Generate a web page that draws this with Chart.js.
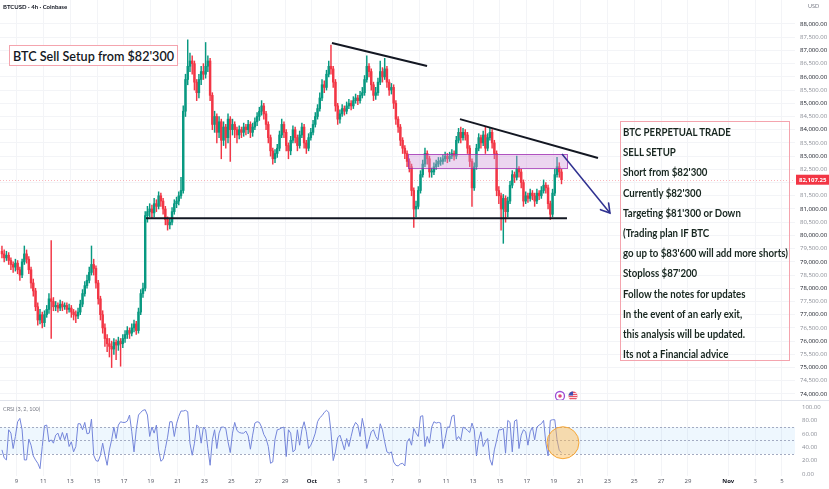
<!DOCTYPE html>
<html>
<head>
<meta charset="utf-8">
<title>BTCUSD 4h</title>
<script src="https://cdn.jsdelivr.net/npm/chart.js@4.4.1/dist/chart.umd.min.js"></script>
<style>
  html, body { margin: 0; padding: 0; background: #fff; }
  #wrap { position: relative; width: 829px; height: 489px; overflow: hidden; font-family: Lato, "Open Sans", sans-serif; }
  canvas { position: absolute; left: 0; }
  #price { top: 0; }
  #rsi { top: 400px; }
  .tiny { position: absolute; font-size: 6px; white-space: nowrap; }
  #sym { left: 3px; top: 3px; color: #131722; font-weight: 700; }
  #usd { left: 808px; top: 3px; color: #787b86; font-size: 5.5px; }
  #crsiLabel { left: 3px; top: 406px; color: #787b86; font-size: 5.5px; }
  .note { position: absolute; box-sizing: border-box; border: 1px solid #f4a4ae; color: #131722; white-space: nowrap; }
  #title { left: 9px; top: 45px; width: 169px; height: 21px; font-size: 14px; font-weight: 600; line-height: 19px; padding-left: 3px; background: #fff; }
  #notes { left: 620px; top: 121px; width: 170px; height: 240px; font-size: 10.5px; font-weight: 700; padding-left: 2px; color: #17261f; }
  #notes .line { height: 20.2px; line-height: 20.2px; }
  .fit { display: inline-block; transform-origin: 0 0; }
</style>
</head>
<body>
<div id="wrap">
  <canvas id="price" width="829" height="400"></canvas>
  <canvas id="rsi" width="829" height="89"></canvas>
  <div id="sym" class="tiny">BTCUSD · 4h · Coinbase</div>
  <div id="usd" class="tiny">USD</div>
  <div id="crsiLabel" class="tiny">CRSI (3, 2, 100)</div>
  <div id="title" class="note"><span class="fit" id="titleText">BTC Sell Setup from $82'300</span></div>
  <div id="notes" class="note"><div class="fit" id="notesText">
    <div class="line">BTC PERPETUAL TRADE</div>
    <div class="line">SELL SETUP</div>
    <div class="line">Short from $82'300</div>
    <div class="line">Currently $82'300</div>
    <div class="line">Targeting $81'300 or Down</div>
    <div class="line">(Trading plan IF BTC</div>
    <div class="line">go up to $83'600 will add more shorts)</div>
    <div class="line">Stoploss $87'200</div>
    <div class="line">Follow the notes for updates</div>
    <div class="line">In the event of an early exit,</div>
    <div class="line">this analysis will be updated.</div>
    <div class="line">Its not a Financial advice</div>
  </div></div>
</div>
<script>
// 4h candles, first one opens Sep 7 20:00; time axis in days since Sep 1
const startDay = 6.8333;
const firstOpen = 79400;

const closes = [
  79300,79150,79250,79050,78900, 78800,78950,78700,78500, 79000,79300,
  79100,78700,78200,77900,77300,76800, 77000,76700, 77000,77200,77600,77500,
  77300,77350,77250,77400,77300,77350,77200,77250,77100,77000,76950,77100,
  77400,77800,78100,78300,78600,78900,78750, 78200,77600,77000,76500,76100,75900,
  75800,75700,75950,75850,76000,75900, 76100,76250,76400,76300,76500,76650,76400,
  77100,77800,78000, 80750, 80900,81000,80850,81200,81100,81500,81300,
  81000,80600,80400,80500, 80900,81200,81300,81500,81700, 84700,85900,
  86400,86600,86500, 85800,85400, 85900,86200,86100,86400,86600, 85300,84200,
  84500,83900,84300,83600,84100,83700,84400,84000,84200,
  84000,83800,84000,83900,84100,84000,84200,83900,84100,84300,84500,
  84700,84900,84600,84200, 83700,83200,82900,83100,83300,
  83800,84200,83900,83400,83200,83600,84000,
  83700,83400,83800,84100,83500,83300,83700,83900,84200,84500,
  84800,85200,85700,85600,86100,86400,86300,85800, 84900,84400,
  84600,84800,84700,84900,85000,84900,85100,85200,85100,85300,85400,
  85900,86400,86200,85700, 85300,85400,85800, 86200,86000,86300,85800,
  85500,85600,85000, 84400,84100,83600, 83300,83100,82800,82600,
  81700,81000,81100, 81700, 82300,82700,83100,82900, 82400,82400,82600,
  82700,82800,82800,82900,83000,82900,83000,83100,83000,
  83600,83900,83700,83900,83800,83300, 82800,81800, 82600,83300,83700,83500,
  83800,83300,83700,83900,83500,83100, 81700, 81500,81000,81400,80900,81300,
  81900,82300,82200,82500,82400,82000, 81300,
  81500,81400,81600,81500,81300,81600,81500,81700, 81900,81800,81200,
  80800,81600, 82300,82600, 82400,82107.25
];

const highs = [
  79600,79450,79400,79350,79150, 79000,79100,79050,78800, 79100,79600,
  79450,79200,78800,78350,78000,77450, 77200,77100, 77150,77350,77800,79800,
  77650,77500,77450,77550,77500,77450,77450,77400,77350,77200,77150,77250,
  77550,77950,78250,78500,78800,79600,79100, 78850,78300,77700,77150,76650,76250,
  76100,76000,76100,76050,76150,76100, 76250,76400,76550,76500,76650,76800,76750,
  77250,77950,78200, 80900, 81100,81200,81150,81400,81350,81650,81600,
  81400,81100,80700,80650, 81050,81350,81450,81650,82200, 84900,86100,
  87400,86900,86800, 86600,85900, 86100,86400,86500,87300,86800, 86700,85400,
  84700,84600,84500,84400,84300,84200,84600,84500,84400,
  84300,84100,84150,84100,84250,84200,84350,84300,84250,84450,84650,
  84850,85100,85000,84700, 84300,83800,83300,83250,83450,
  83950,84400,84300,84000,83500,83750,84150,
  84100,83800,83950,84250,84200,83600,83850,84050,84350,84650,
  84950,85400,85900,85850,86250,86600,87200,86400, 85900,85000,
  84750,84950,84900,85050,85150,85100,85250,85350,85300,85450,85600,
  86050,86800,86500,86300, 85800,85600,85950, 86600,86350,86700,86400,
  85900,85750,85700, 85100,84500,84200, 83700,83400,83200,82900,
  82700,81800,81300, 81850, 82450,82850,83300,83200, 83000,82550,82750,
  82850,82950,82950,83050,83150,83100,83150,83250,83200,
  83750,84050,84100,84050,84000,83900, 83400,82900, 82750,83450,83850,83800,
  83950,84100,83850,84050,84000,83600, 83200, 81850,81600,81550,81500,81450,
  82050,82450,82400,83000,82600,82500, 82100,
  81650,81600,81750,81700,81600,81750,81700,81850, 82100,82000,81900,
  81300,81750, 82500,82950, 82750,82500
];

const lows = [
  79150,79000,79050,78900,78700, 78600,78650,78550,78300, 78400,78900,
  78950,78550,78000,77700,77150,76600, 76650,76500, 76550,76900,77050,76100,
  77150,77150,77100,77150,77150,77200,77050,77100,76900,76800,76700,76850,
  77000,77300,77700,78000,78200,78500,78500, 78000,77400,76800,76300,75800,75600,
  75400,75000,75500,75300,75650,75050, 75750,75950,76100,76100,76200,76350,76250,
  76300,77000,77650, 77900, 80500,80700,80650,80700,80900,81000,81100,
  80800,80400,80200,80250, 80400,80800,81050,81150,81400, 81600,84500,
  85700,86200,86100, 85500,85100, 85200,85700,85900,85950,86200, 85100,84000,
  83900,83500,83700,82900,83400,83300,83500,82800,83800,
  83700,83500,83650,83700,83750,83800,83850,83700,83750,84000,84150,
  84350,84550,84400,84000, 83500,83000,82700,82750,82950,
  83200,83700,83700,83200,82900,83050,83500,
  83500,83200,83300,83700,83300,83100,83200,83600,83800,84100,
  84400,84700,85100,85400,85500,86000,86100,85600, 84700,84200,
  84250,84500,84550,84600,84800,84750,84800,85000,84950,85000,85200,
  85300,85800,86000,85500, 85100,85150,85300, 85700,85800,85900,85600,
  85300,85350,84800, 84200,83900,83400, 83100,82900,82600,82400,
  81500,80300,80700, 81000, 81600,82200,82600,82700, 82200,82200,82300,
  82500,82600,82650,82700,82800,82750,82800,82900,82850,
  82900,83500,83500,83600,83600,83100, 82600,81100, 81700,82500,83200,83300,
  83400,83100,83200,83600,83300,82900, 81500, 81200,80200,79700,80500,80700,
  81200,81800,82000,82100,82200,81800, 81100,
  81200,81250,81300,81350,81100,81200,81350,81400, 81600,81600,81000,
  80600,80700, 81500,82200, 82200,81950
];

// CRSI (3, 2, 100), one value per candle
const crsi = [
  36,24,21,66,61,38,56,78,83,66,  21,21,52,43,27,21,16,8,41,72,
  73,48,51,46,58,61,51,62,51,61,  41,48,33,41,75,75,66,77,60,61,
  82,28,20,19,28,46,28,13,36,51,  70,53,73,78,77,77,79,88,63,33,
  66,88,92,95,96,88,56,70,61,73,  36,19,22,38,55,78,78,56,75,86,
  94,94,95,93,46,28,46,73,70,46,  70,66,38,13,51,66,38,61,70,70,
  68,48,32,61,77,65,62,61,61,64,  57,37,58,76,78,77,70,59,53,41,
  16,18,52,66,67,69,70,26,66,61,  33,36,66,43,66,78,63,38,43,51,
  61,78,84,87,92,95,92,63,20,33,  54,58,48,36,53,41,56,70,77,73,
  56,83,66,38,51,63,66,56,51,75,  66,48,33,31,33,18,13,12,15,16,
  12,48,53,43,68,61,56,86,87,41,  56,46,70,78,76,77,76,38,53,70,
  70,86,88,51,56,51,70,68,65,62,  76,66,27,51,63,41,48,53,22,13,
  36,50,66,66,68,31,80,77,33,79,  81,38,58,66,63,43,63,70,51,70,
  73,75,80,46,27,80,81,81,51,35,32
];

const priceTicks = [74000,74500,75000,75500,76000,76500,77000,77500,78000,78500,79000,79500,
  80000,80500,81000,81500,82000,82500,83000,83500,84000,84500,85000,85500,86000,86500,87000,87500,88000];
const rsiTicks = [0, 20, 40, 60, 80, 100];
// day ticks: Sep 9 .. Sep 29, Oct 1 .. Oct 29, Nov 1, 3, 5
const dayTicks = [8,10,12,14,16,18,20,22,24,26,28,30,32,34,36,38,40,42,44,46,48,50,52,54,56,58,61,63,65];
const monthTicks = [30, 61];

// drawings (day, price)
const supportLine = [{x: 17.64, y: 80650}, {x: 48.99, y: 80650}];
const upperTrend1 = [{x: 31.49, y: 87280}, {x: 38.57, y: 86410}];
const upperTrend2 = [{x: 41.02, y: 84400}, {x: 51.30, y: 82930}];
const sellZone = {x1: 37.15, x2: 48.99, top: 83080, bottom: 82550};
const targetArrow = [{x: 48.62, y: 83080}, {x: 52.19, y: 80850}];
const highlight = {x: 48.69, y: 46.7};
const eventIcons = [48.47, 49.44];

const xMin = 6.771, xMax = 65.97;
const upColor = '#089981', downColor = '#f23645';
const arrowColor = '#2f3190';

const candleDays = closes.map((c, i) => startDay + i / 6 + 1 / 12);
const opens = closes.map((c, i) => i === 0 ? firstOpen : closes[i - 1]);
const colors = closes.map((c, i) => c >= opens[i] ? upColor : downColor);
const lastPrice = closes[closes.length - 1];

Chart.defaults.font.family = '"Open Sans", Lato, sans-serif';

function fmtPrice(v) {
  return v.toLocaleString('en-US', {minimumFractionDigits: 2, maximumFractionDigits: 2});
}
function dayLabel(d) {
  if (d === 30) return 'Oct';
  if (d === 61) return 'Nov';
  if (d < 30) return String(d + 1);
  if (d < 61) return String(d - 29);
  return String(d - 60);
}
function isMonth(c) {
  return !!(c && c.tick && monthTicks.includes(c.tick.value));
}

const priceExtras = {
  id: 'priceExtras',
  beforeDatasetsDraw(chart) {
    const {ctx, chartArea: a, scales: {y}} = chart;
    const yl = Math.round(y.getPixelForValue(lastPrice)) + 0.5;
    ctx.save();
    ctx.strokeStyle = 'rgba(242,54,69,0.35)';
    ctx.setLineDash([1, 2]);
    ctx.lineWidth = 1;
    ctx.beginPath(); ctx.moveTo(a.left, yl); ctx.lineTo(a.right, yl); ctx.stroke();
    ctx.restore();
  },
  afterDatasetDraw(chart, args) {
    if (args.index !== 4) return;
    const {ctx, scales: {x, y}} = chart;
    const x1 = x.getPixelForValue(sellZone.x1), x2 = x.getPixelForValue(sellZone.x2);
    const y1 = y.getPixelForValue(sellZone.top), y2 = y.getPixelForValue(sellZone.bottom);
    ctx.save();
    ctx.fillStyle = 'rgba(206,147,216,0.38)';
    ctx.fillRect(x1, y1, x2 - x1, y2 - y1);
    ctx.strokeStyle = 'rgba(156,39,176,0.75)';
    ctx.lineWidth = 1;
    ctx.strokeRect(Math.round(x1) + 0.5, Math.round(y1) + 0.5, Math.round(x2 - x1), Math.round(y2 - y1));
    ctx.restore();
  },
  afterDatasetsDraw(chart) {
    const {ctx, scales: {x, y}} = chart;
    const ax = x.getPixelForValue(targetArrow[0].x), ay = y.getPixelForValue(targetArrow[0].y);
    const bx = x.getPixelForValue(targetArrow[1].x), by = y.getPixelForValue(targetArrow[1].y);
    const ang = Math.atan2(by - ay, bx - ax);
    const len = 10;
    ctx.save();
    ctx.strokeStyle = arrowColor;
    ctx.lineWidth = 1.6;
    ctx.lineCap = 'round';
    ctx.beginPath();
    ctx.moveTo(bx + len * Math.cos(ang + Math.PI - 0.55), by + len * Math.sin(ang + Math.PI - 0.55));
    ctx.lineTo(bx, by);
    ctx.lineTo(bx + len * Math.cos(ang + Math.PI + 0.55), by + len * Math.sin(ang + Math.PI + 0.55));
    ctx.stroke();
    ctx.restore();
  },
  afterDraw(chart) {
    const {ctx, chartArea: a, scales: {x, y}} = chart;
    // last price tag
    const yl = y.getPixelForValue(lastPrice);
    ctx.save();
    ctx.fillStyle = '#f23645';
    ctx.fillRect(a.right + 1, yl - 5, 33, 10);
    ctx.fillStyle = '#fff';
    ctx.font = 'bold 6px "Open Sans", sans-serif';
    ctx.textBaseline = 'middle';
    ctx.fillText(fmtPrice(lastPrice), a.right + 4, yl + 0.5);
    // event icons on the time line
    const iy = a.bottom - 4;
    const i1 = x.getPixelForValue(eventIcons[0]);
    ctx.beginPath(); ctx.arc(i1, iy, 4.5, 0, Math.PI * 2);
    ctx.fillStyle = '#fff'; ctx.fill();
    ctx.strokeStyle = '#9c4fd6'; ctx.lineWidth = 1.3; ctx.stroke();
    ctx.beginPath(); ctx.arc(i1, iy, 1.8, 0, Math.PI * 2); ctx.fillStyle = '#e0457b'; ctx.fill();
    const i2 = x.getPixelForValue(eventIcons[1]);
    ctx.beginPath(); ctx.arc(i2, iy, 4.5, 0, Math.PI * 2); ctx.fillStyle = '#e8566a'; ctx.fill();
    ctx.save();
    ctx.beginPath(); ctx.arc(i2, iy, 4.5, 0, Math.PI * 2); ctx.clip();
    ctx.fillStyle = '#fff';
    for (let k = -3; k <= 3; k += 2) ctx.fillRect(i2 - 5, iy + k, 10, 0.8);
    ctx.fillStyle = '#3f51b5'; ctx.fillRect(i2 - 5, iy - 5, 5, 4.5);
    ctx.restore();
    ctx.restore();
  }
};

const rsiExtras = {
  id: 'rsiExtras',
  beforeDatasetsDraw(chart) {
    const {ctx, chartArea: a, scales: {y}} = chart;
    const y70 = y.getPixelForValue(70), y30 = y.getPixelForValue(30), y50 = y.getPixelForValue(50);
    ctx.save();
    ctx.fillStyle = 'rgba(33,150,243,0.08)';
    ctx.fillRect(a.left, y70, a.right - a.left, y30 - y70);
    ctx.strokeStyle = '#a3abc2';
    ctx.setLineDash([2, 2]);
    ctx.lineWidth = 1;
    [y70, y50, y30].forEach(v => {
      const yy = Math.round(v) + 0.5;
      ctx.beginPath(); ctx.moveTo(a.left, yy); ctx.lineTo(a.right, yy); ctx.stroke();
    });
    ctx.setLineDash([]);
    ctx.strokeStyle = '#e0e3eb';
    ctx.beginPath(); ctx.moveTo(0, 0.5); ctx.lineTo(chart.width, 0.5); ctx.stroke();
    ctx.restore();
  },
  afterDatasetsDraw(chart) {
    const {ctx, scales: {x, y}} = chart;
    const cx = x.getPixelForValue(highlight.x), cy = y.getPixelForValue(highlight.y);
    ctx.save();
    ctx.beginPath(); ctx.arc(cx, cy, 16, 0, Math.PI * 2);
    ctx.fillStyle = 'rgba(255,183,77,0.45)';
    ctx.fill();
    ctx.strokeStyle = 'rgba(245,160,40,0.9)';
    ctx.lineWidth = 1;
    ctx.stroke();
    ctx.restore();
  }
};

function fixY(s) { s.width = 34; s.paddingTop = 0; s.paddingBottom = 0; }

function lineSet(pts, color, width) {
  return {type: 'line', data: pts, borderColor: color, borderWidth: width, pointRadius: 0, order: 0, clip: false};
}

function fitText() {
  const t = document.getElementById('titleText');
  t.style.transform = 'scaleX(' + (161 / t.getBoundingClientRect().width) + ')';
  const n = document.getElementById('notesText');
  n.style.transform = 'scaleX(' + (165 / n.getBoundingClientRect().width) + ')';
}
fitText();

new Chart(document.getElementById('price'), {
  type: 'bar',
  data: {
    datasets: [
      lineSet(supportLine, '#131722', 2),
      lineSet(upperTrend1, '#131722', 2),
      lineSet(upperTrend2, '#131722', 2),
      lineSet(targetArrow, arrowColor, 1.6),
      {
        label: 'body',
        data: candleDays.map((d, i) => ({x: d, y: [opens[i], closes[i]]})),
        backgroundColor: colors,
        barThickness: 1.8,
        minBarLength: 1,
        grouped: false,
        order: 2
      },
      {
        label: 'wick',
        data: candleDays.map((d, i) => ({x: d, y: [lows[i], highs[i]]})),
        backgroundColor: colors,
        barThickness: 0.8,
        grouped: false,
        order: 3
      }
    ]
  },
  options: {
    responsive: false,
    animation: false,
    events: [],
    layout: {padding: 0},
    plugins: {legend: {display: false}, tooltip: {enabled: false}},
    scales: {
      x: {
        type: 'linear', min: xMin, max: xMax, offset: false,
        ticks: {display: false},
        grid: {color: '#f3f4f7', drawTicks: false, offset: false},
        border: {display: false},
        afterBuildTicks: s => { s.ticks = dayTicks.map(v => ({value: v})); },
        afterFit: s => { s.height = 0; s.paddingLeft = 0; s.paddingRight = 0; }
      },
      y: {
        type: 'linear', position: 'right', min: 73772, max: 88908, beginAtZero: false,
        grid: {color: '#f3f4f7', drawTicks: false},
        border: {display: false},
        ticks: {
          padding: 5,
          font: {size: 6},
          color: c => (c && c.tick && c.tick.value % 1000 === 0) ? '#131722' : '#8a8d96',
          callback: v => v === 82000 ? '' : fmtPrice(v)
        },
        afterBuildTicks: s => { s.ticks = priceTicks.map(v => ({value: v})); },
        afterFit: fixY
      }
    }
  },
  plugins: [priceExtras]
});

new Chart(document.getElementById('rsi'), {
  type: 'line',
  data: {
    datasets: [{
      data: candleDays.map((d, i) => ({x: d, y: crsi[i]})),
      borderColor: '#7485da',
      borderWidth: 1,
      pointRadius: 0,
      tension: 0
    }]
  },
  options: {
    responsive: false,
    animation: false,
    events: [],
    layout: {padding: 0},
    plugins: {legend: {display: false}, tooltip: {enabled: false}},
    scales: {
      x: {
        type: 'linear', min: xMin, max: xMax,
        grid: {color: '#f3f4f7', drawTicks: false},
        border: {display: false},
        ticks: {
          padding: 2,
          color: c => isMonth(c) ? '#131722' : '#50535e',
          font: c => ({size: 6, weight: isMonth(c) ? 'bold' : 'normal'}),
          callback: v => dayLabel(v),
          maxRotation: 0,
          autoSkip: false
        },
        afterBuildTicks: s => { s.ticks = dayTicks.map(v => ({value: v})); },
        afterFit: s => { s.height = 13; s.paddingLeft = 0; s.paddingRight = 0; }
      },
      y: {
        type: 'linear', position: 'right', min: -2.99, max: 110.45,
        grid: {display: false, drawTicks: false},
        border: {display: false},
        ticks: {padding: 7, font: {size: 6}, color: '#8a8d96', callback: v => v.toFixed(2)},
        afterBuildTicks: s => { s.ticks = rsiTicks.map(v => ({value: v})); },
        afterFit: fixY
      }
    }
  },
  plugins: [rsiExtras]
});
</script>
</body>
</html>
